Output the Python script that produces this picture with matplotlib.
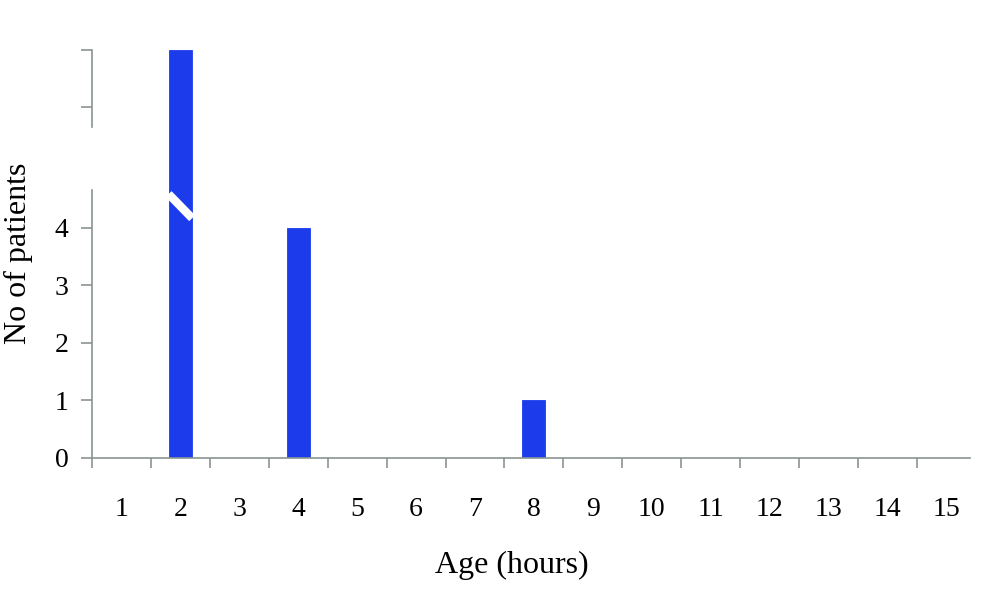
import numpy as np
import matplotlib
matplotlib.use("Agg")
import matplotlib.pyplot as plt

ages = [str(i) for i in range(1, 16)]
patients = [0, 12, 0, 4, 0, 0, 0, 1, 0, 0, 0, 0, 0, 0, 0]

bar_color = '#1c3cec'
axis_color = '#8a9494'
plt.rcParams['font.family'] = ['Liberation Serif', 'DejaVu Serif']

fig = plt.figure(figsize=(10, 5.95), dpi=100)
# lower part of broken axis runs up to the bottom of the upper part,
# its spine only drawn to 4.66 so the gap shows but the tall bar stays whole
ax = fig.add_axes([0.092, 0.2303, 0.878, 0.5563])
ax_top = fig.add_axes([0.092, 0.7866, 0.878, 0.1294])

x = np.arange(len(ages))
for a in (ax, ax_top):
    a.bar(x, patients, width=0.39, color=bar_color, edgecolor=bar_color, linewidth=0.6)
    a.set_xlim(-0.5, 14.4)
    for s in ('top', 'right'):
        a.spines[s].set_visible(False)
    a.spines['left'].set_color(axis_color)
    a.spines['bottom'].set_color(axis_color)
    a.spines['left'].set_linewidth(1.2)
    a.tick_params(axis='y', colors=axis_color, length=8, width=1.2, labelcolor='black',
                  labelsize=20, pad=9)

ax.set_ylim(0, 5.757)
ax.spines['left'].set_bounds(0, 4.66)
ax.set_yticks([0, 1, 2, 3, 4])
ax.set_xticks(x)
ax.set_xticklabels(ages, fontsize=20)
ax.set_xticks(np.arange(-0.5, 14, 1), minor=True)
ax.tick_params(axis='x', which='major', length=0, pad=28)
ax.tick_params(axis='x', which='minor', length=7, width=1.2, colors=axis_color)
ax.spines['bottom'].set_linewidth(1.2)

ax_top.set_ylim(10.66, 12)
ax_top.set_yticks([11, 12])
ax_top.set_yticklabels([])
ax_top.spines['bottom'].set_visible(False)
ax_top.set_xticks([])

# white break mark across the tall bar
ax.plot([1 - 0.2, 1 + 0.2], [4.59, 4.17], color='white', lw=6, solid_capstyle='butt',
        zorder=5)

ax.set_xlabel('Age (hours)', fontsize=23)
ax.xaxis.set_label_coords(0.478, -0.28)
fig.text(0.018, 0.575, 'No of patients', rotation=90, fontsize=23, ha='center', va='center')

fig.savefig('out.png', dpi=100)
